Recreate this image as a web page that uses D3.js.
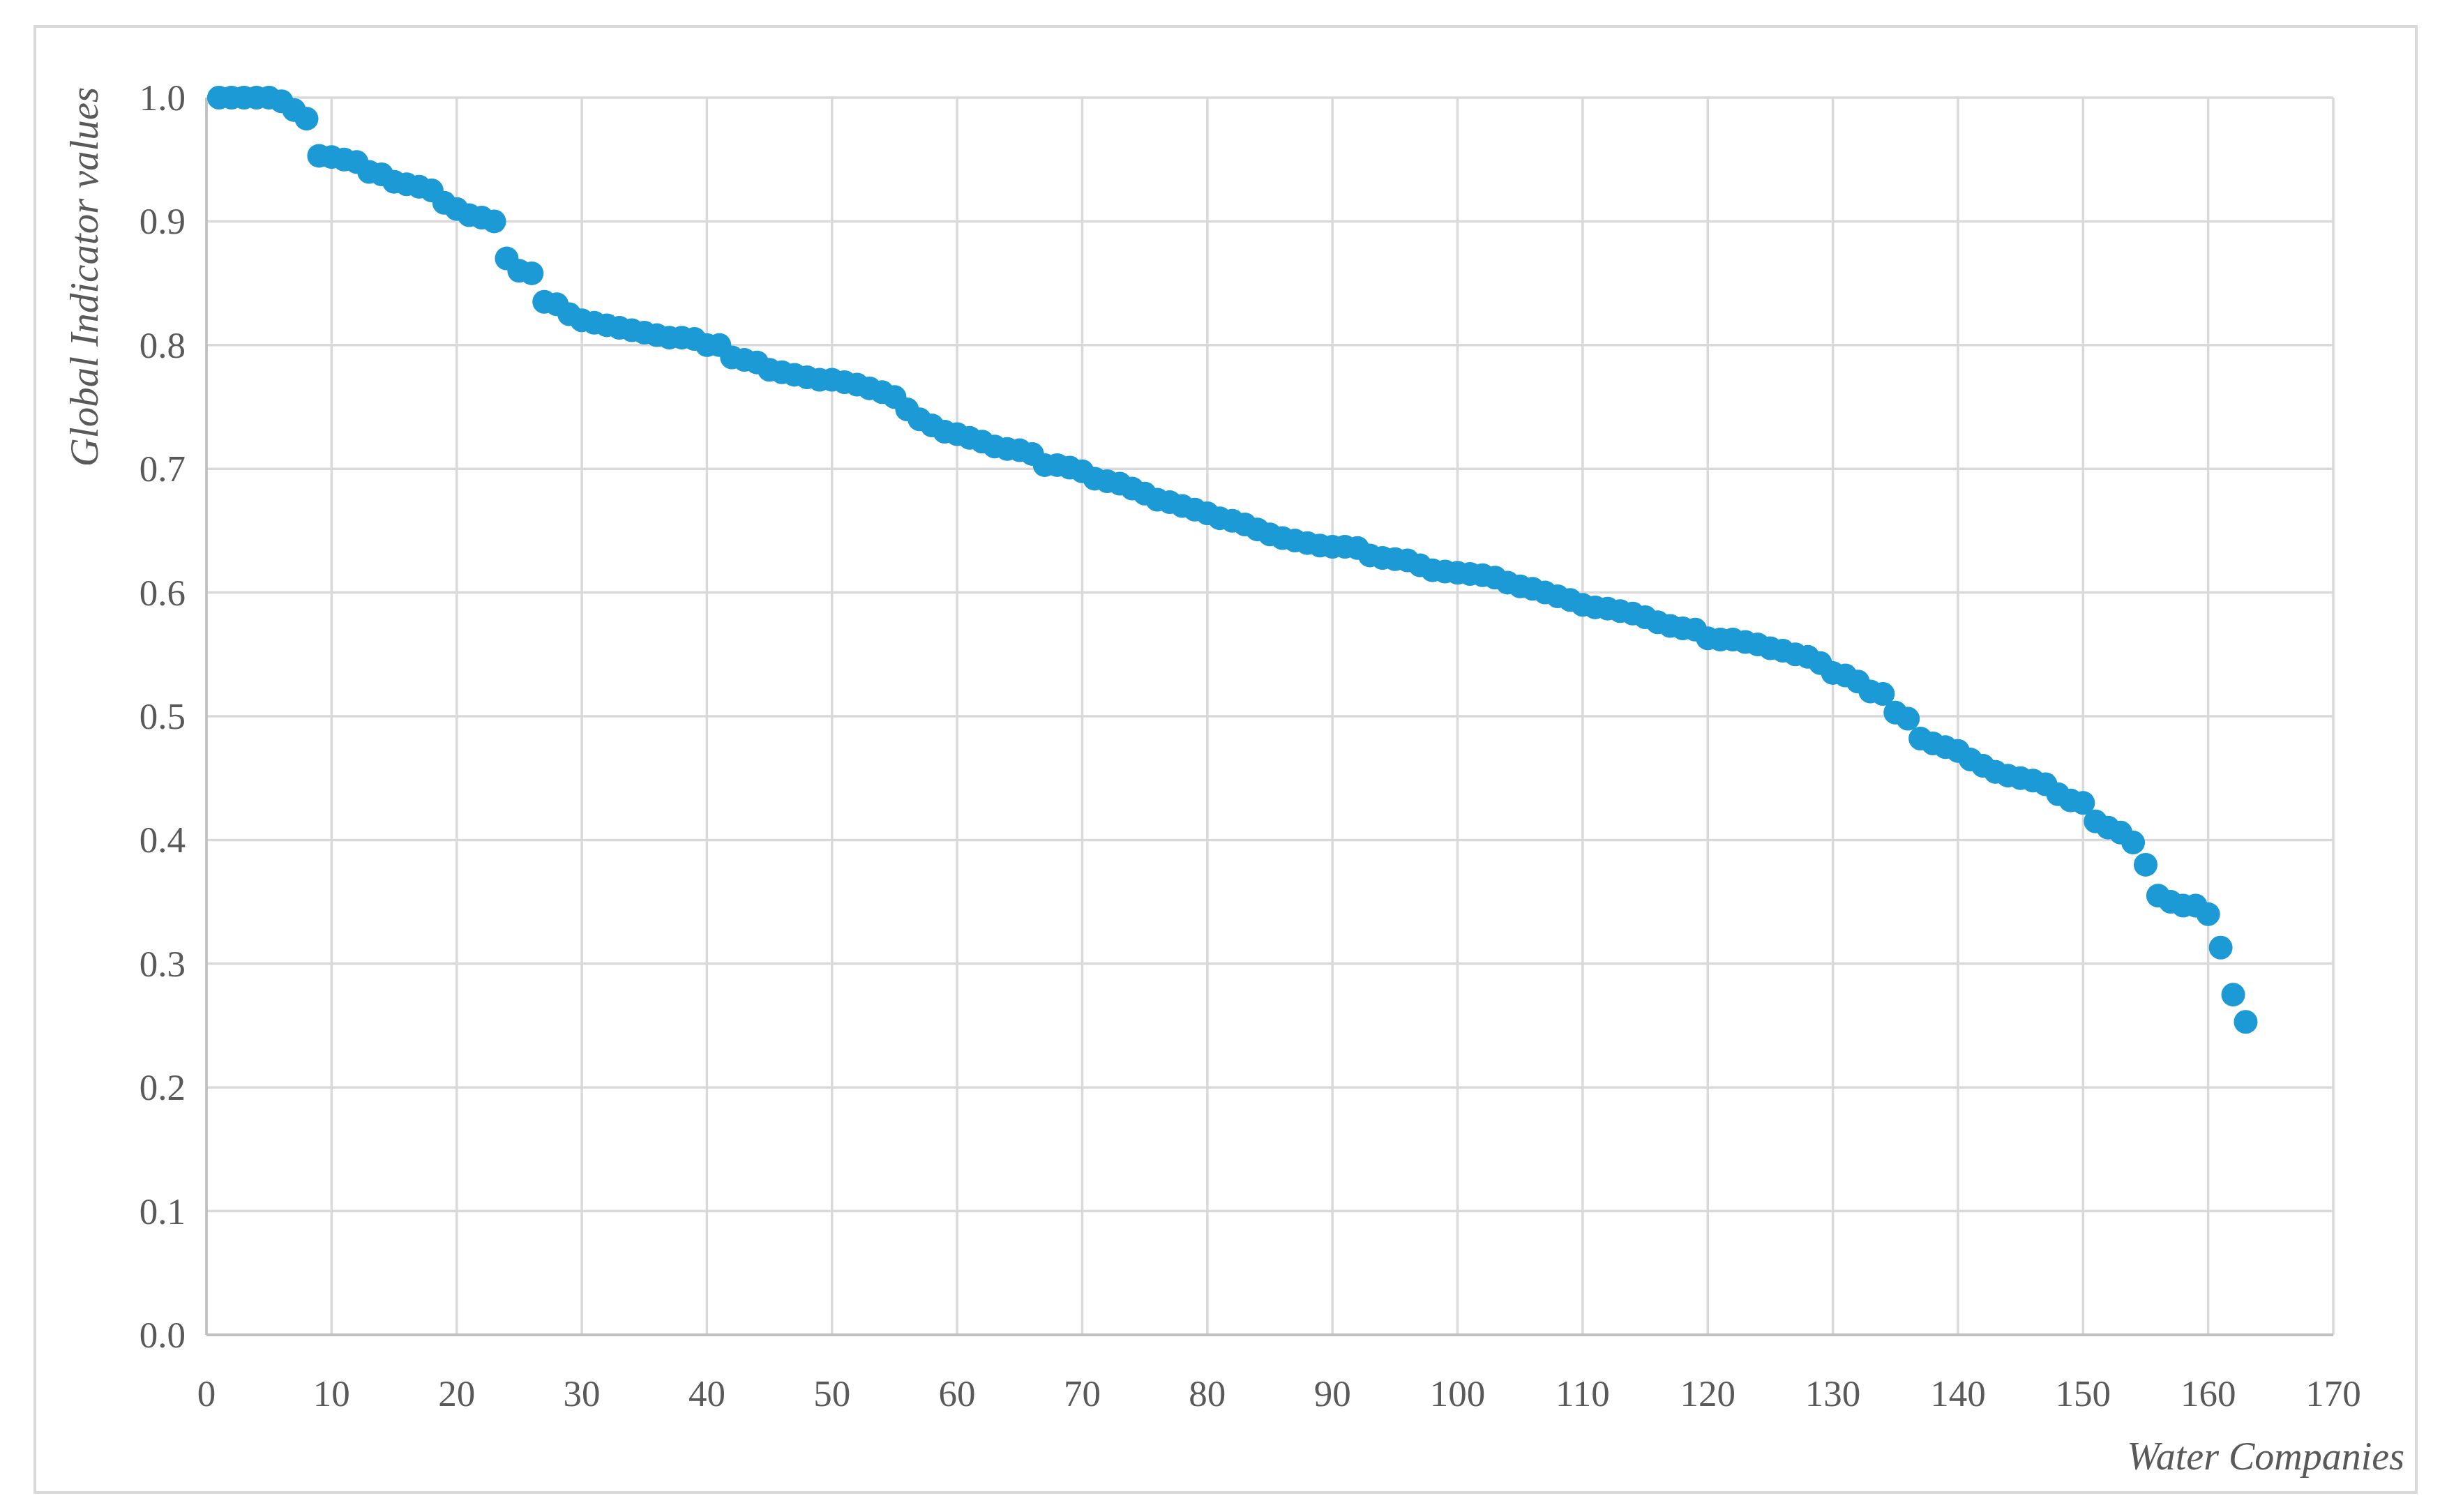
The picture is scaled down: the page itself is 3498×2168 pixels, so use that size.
<!DOCTYPE html>
<html><head><meta charset="utf-8">
<script src="https://cdn.jsdelivr.net/npm/d3@7"></script>
<style>body{margin:0;background:#fff}</style></head>
<body><svg id="c" width="3498" height="2168"></svg>
<script>
const values = [1.0,1.0,1.0,1.0,1.0,0.997,0.99,0.983,0.953,0.952,
0.95,0.948,0.94,0.938,0.932,0.93,0.928,0.925,0.915,0.91,
0.905,0.903,0.9,0.87,0.86,0.858,0.835,0.833,0.825,0.82,
0.818,0.816,0.814,0.812,0.81,0.808,0.806,0.806,0.805,0.8,
0.8,0.79,0.788,0.786,0.78,0.778,0.776,0.774,0.772,0.772,
0.77,0.768,0.765,0.762,0.758,0.748,0.74,0.735,0.73,0.728,
0.725,0.722,0.718,0.716,0.715,0.712,0.703,0.703,0.701,
0.698,0.692,0.69,0.688,0.684,0.68,0.675,0.673,0.67,0.667,
0.664,0.66,0.658,0.655,0.651,0.647,0.644,0.642,0.64,0.638,
0.637,0.637,0.636,0.63,0.628,0.627,0.626,0.622,0.618,0.617,
0.616,0.615,0.614,0.612,0.608,0.605,0.603,0.6,0.597,0.594,
0.59,0.588,0.587,0.585,0.583,0.58,0.576,0.573,0.571,0.57,
0.563,0.562,0.562,0.56,0.558,0.555,0.553,0.55,0.548,0.543,
0.535,0.533,0.528,0.52,0.518,0.503,0.498,0.482,0.478,0.475,
0.472,0.465,0.46,0.455,0.452,0.45,0.448,0.445,0.437,0.432,
0.43,0.415,0.41,0.406,0.398,0.38,0.355,0.35,0.347,0.347,
0.34,0.313,0.275,0.253];
const xTicks = d3.range(0,171,10);
const yTicks = d3.range(0,1.01,0.1);
const xTitle = "Water Companies", yTitle = "Global Indicator values";

const svg = d3.select("#c");
const L=296,R=3345,T=140,B=1914;
const x=d3.scaleLinear().domain([0,170]).range([L,R]);
const y=d3.scaleLinear().domain([0,1]).range([B,T]);
const font="'Liberation Serif', 'DejaVu Serif', serif";
svg.append("rect").attr("x",50).attr("y",38).attr("width",3414).attr("height",2102)
 .attr("fill","#fff").attr("stroke","#d9d9d9").attr("stroke-width",4);
const g=svg.append("g");
g.selectAll(".vg").data(xTicks).join("line").attr("x1",d=>x(d)).attr("x2",d=>x(d))
 .attr("y1",T).attr("y2",B).attr("stroke","#d9d9d9").attr("stroke-width",3.5);
g.selectAll(".hg").data(yTicks).join("line").attr("x1",L).attr("x2",R)
 .attr("y1",d=>y(d)).attr("y2",d=>y(d)).attr("stroke","#d9d9d9").attr("stroke-width",3.5);
g.append("line").attr("x1",L).attr("x2",R).attr("y1",B).attr("y2",B).attr("stroke","#bfbfbf").attr("stroke-width",4);
g.append("line").attr("x1",L).attr("x2",L).attr("y1",T).attr("y2",B).attr("stroke","#bfbfbf").attr("stroke-width",3.5);
g.selectAll(".xt").data(xTicks).join("text").attr("x",d=>x(d)).attr("y",B+102)
 .attr("text-anchor","middle").attr("font-family",font).attr("font-size",53).attr("fill","#595959").text(d=>d);
g.selectAll(".yt").data(yTicks).join("text").attr("x",L-30).attr("y",d=>y(d)+18)
 .attr("text-anchor","end").attr("font-family",font).attr("font-size",53).attr("fill","#595959").text(d=>d.toFixed(1));
svg.append("text").attr("transform","translate(140,397) rotate(-90)").attr("text-anchor","middle")
 .attr("font-family",font).attr("font-style","italic").attr("font-size",57).attr("fill","#595959").text(yTitle);
svg.append("text").attr("x",3447).attr("y",2107).attr("text-anchor","end")
 .attr("font-family",font).attr("font-style","italic").attr("font-size",56).attr("fill","#595959").text(xTitle);
svg.append("g").selectAll("circle").data(values).join("circle")
 .attr("cx",(d,i)=>x(i+1)).attr("cy",d=>y(d)).attr("r",17).attr("fill","#1b9ad6");
</script></body></html>
